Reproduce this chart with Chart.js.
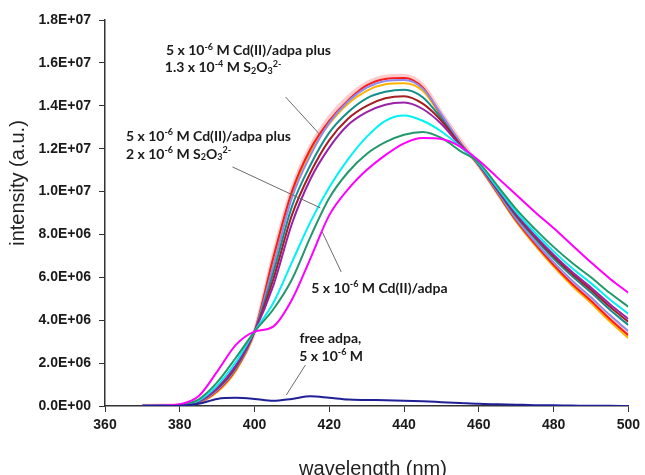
<!DOCTYPE html>
<html>
<head>
<meta charset="utf-8">
<script src="https://cdn.jsdelivr.net/npm/chart.js@4.4.1/dist/chart.umd.min.js"></script>
<style>
  html, body { margin: 0; padding: 0; background: #fff; }
  #wrap { width: 645px; height: 475px; }
</style>
</head>
<body>
<div id="wrap"><canvas id="specChart" width="645" height="475"></canvas></div>
<script>
// emission spectra, intensity in units of 1E+06 (a.u.)
const wavelengths = [370, 375, 380, 385, 390, 395, 400, 405, 410, 415, 420, 425, 430, 435, 440, 445, 450, 455, 460, 465, 470, 475, 480, 485, 490, 495, 500];

const freeAdpa   = [0.00, 0.00, 0.01, 0.10, 0.33, 0.38, 0.33, 0.24, 0.33, 0.45, 0.38, 0.30, 0.28, 0.27, 0.25, 0.22, 0.18, 0.14, 0.10, 0.08, 0.06, 0.04, 0.03, 0.02, 0.01, 0.01, 0.00];
const cdAdpa     = [0.01, 0.02, 0.08, 0.45, 1.60, 2.85, 3.47, 3.70, 4.95, 6.90, 8.90, 10.10, 11.00, 11.70, 12.25, 12.50, 12.45, 12.10, 11.45, 10.65, 9.85, 9.05, 8.30, 7.50, 6.70, 5.95, 5.28];
const thioA      = [0.01, 0.02, 0.06, 0.30, 1.10, 2.25, 3.47, 4.50, 5.90, 7.90, 9.70, 10.90, 11.75, 12.30, 12.65, 12.78, 12.50, 11.90, 11.35, 10.27, 9.18, 8.26, 7.42, 6.67, 6.00, 5.28, 4.63];
const thioB      = [0.01, 0.02, 0.05, 0.25, 0.95, 2.05, 3.47, 4.80, 6.70, 8.60, 10.20, 11.50, 12.55, 13.30, 13.55, 13.30, 12.80, 12.10, 11.31, 10.18, 9.05, 8.09, 7.21, 6.42, 5.73, 4.98, 4.30];
const thioC      = [0.01, 0.02, 0.05, 0.22, 0.85, 1.90, 3.47, 5.60, 8.50, 10.60, 12.05, 13.10, 13.70, 14.05, 14.15, 13.85, 13.15, 12.15, 11.29, 10.12, 8.96, 7.96, 7.06, 6.25, 5.53, 4.76, 4.06];
const thioD      = [0.01, 0.02, 0.05, 0.22, 0.82, 1.85, 3.47, 5.90, 8.90, 10.90, 12.40, 13.40, 14.00, 14.35, 14.45, 14.10, 13.30, 12.20, 11.28, 10.09, 8.90, 7.90, 6.98, 6.15, 5.42, 4.64, 3.93];
const thioE      = [0.01, 0.02, 0.05, 0.20, 0.80, 1.80, 3.47, 6.20, 9.30, 11.25, 12.75, 13.70, 14.35, 14.65, 14.75, 14.40, 13.40, 12.20, 11.26, 10.05, 8.84, 7.82, 6.88, 6.05, 5.30, 4.50, 3.78];
const thioF      = [0.01, 0.02, 0.05, 0.18, 0.75, 1.75, 3.47, 6.50, 9.70, 11.70, 13.20, 14.20, 14.85, 15.15, 15.20, 14.80, 13.60, 12.30, 11.23, 9.98, 8.73, 7.67, 6.71, 5.84, 5.07, 4.25, 3.50];
const thioG      = [0.01, 0.02, 0.05, 0.15, 0.65, 1.65, 3.47, 6.80, 9.90, 11.85, 13.15, 14.10, 14.70, 15.00, 15.05, 14.70, 13.50, 12.30, 11.20, 9.90, 8.60, 7.50, 6.50, 5.60, 4.80, 3.95, 3.17];
const thioH      = [0.01, 0.02, 0.05, 0.17, 0.70, 1.70, 3.47, 6.90, 10.00, 12.00, 13.30, 14.25, 14.95, 15.25, 15.30, 14.85, 13.55, 12.30, 11.21, 9.93, 8.65, 7.57, 6.58, 5.69, 4.91, 4.07, 3.30];
const thioMax    = [0.01, 0.02, 0.05, 0.17, 0.72, 1.72, 3.47, 7.00, 10.10, 12.10, 13.45, 14.40, 15.05, 15.35, 15.40, 14.95, 13.65, 12.40, 11.22, 9.95, 8.67, 7.59, 6.61, 5.73, 4.95, 4.11, 3.35];

const xTicks = [360, 380, 400, 420, 440, 460, 480, 500];
const yTickLabels = ["0.0E+00", "2.0E+06", "4.0E+06", "6.0E+06", "8.0E+06", "1.0E+07", "1.2E+07", "1.4E+07", "1.6E+07", "1.8E+07"];

function pts(arr) {
  return arr.map((v, i) => ({ x: wavelengths[i], y: v }));
}

function series(label, arr, color, width) {
  return {
    label: label,
    data: pts(arr),
    borderColor: color,
    borderWidth: width || 2,
    pointRadius: 0,
    fill: false,
    cubicInterpolationMode: "monotone"
  };
}

// labels with super/subscripts, placed in data units
const annoFont = "Lato, 'Open Sans', sans-serif";
const notes = [
  { x: 376.3, y: 16.56, align: "left", parts: [["5 x 10"], ["-6", "sup"], [" M Cd(II)/adpa plus"]] },
  { x: 376.0, y: 15.77, align: "left", parts: [["1.3 x 10"], ["-4", "sup"], [" M S"], ["2", "sub"], ["O"], ["3", "sub"], ["2-", "sup"]] },
  { x: 365.6, y: 12.59, align: "left", parts: [["5 x 10"], ["-6", "sup"], [" M Cd(II)/adpa plus"]] },
  { x: 365.6, y: 11.75, align: "left", parts: [["2 x 10"], ["-6", "sup"], [" M S"], ["2", "sub"], ["O"], ["3", "sub"], ["2-", "sup"]] },
  { x: 415.2, y: 5.50, align: "left", parts: [["5 x 10"], ["-6", "sup"], [" M Cd(II)/adpa"]] },
  { x: 420.3, y: 3.17, align: "center", parts: [["free adpa,"]] },
  { x: 420.5, y: 2.33, align: "center", parts: [["5 x 10"], ["-6", "sup"], [" M"]] }
];
const leaders = [
  [408.3, 14.41, 417.3, 12.69],
  [394.1, 11.15, 417.6, 9.24],
  [418.1, 8.12, 423.2, 6.25],
  [413.6, 1.91, 408.5, 0.51]
];

function fontFor(mode) {
  return mode ? "bold 9px " + annoFont : "bold 14px " + annoFont;
}

function drawRich(ctx, x, y, parts, align) {
  let total = 0;
  parts.forEach(p => { ctx.font = fontFor(p[1]); total += ctx.measureText(p[0]).width; });
  let cx = align === "center" ? x - total / 2 : x;
  ctx.textBaseline = "middle";
  ctx.textAlign = "left";
  parts.forEach(p => {
    ctx.font = fontFor(p[1]);
    let dy = 0;
    if (p[1] === "sup") dy = -4;
    if (p[1] === "sub") dy = 3;
    ctx.fillText(p[0], cx, y + dy);
    cx += ctx.measureText(p[0]).width;
  });
}

const notesPlugin = {
  id: "notes",
  afterDatasetsDraw(chart) {
    const ctx = chart.ctx;
    const xs = chart.scales.x, ys = chart.scales.y;
    ctx.save();
    ctx.strokeStyle = "#6b6b6b";
    ctx.lineWidth = 1;
    leaders.forEach(l => {
      ctx.beginPath();
      ctx.moveTo(xs.getPixelForValue(l[0]), ys.getPixelForValue(l[1]));
      ctx.lineTo(xs.getPixelForValue(l[2]), ys.getPixelForValue(l[3]));
      ctx.stroke();
    });
    ctx.fillStyle = "#1a1a1a";
    notes.forEach(n => drawRich(ctx, xs.getPixelForValue(n.x), ys.getPixelForValue(n.y), n.parts, n.align));

    // axis titles
    ctx.fillStyle = "#222";
    ctx.font = "20px 'Liberation Sans', Arial, sans-serif";
    ctx.textAlign = "center";
    ctx.textBaseline = "alphabetic";
    ctx.fillText("wavelength (nm)", 373, 475);
    ctx.translate(18, 183);
    ctx.rotate(-Math.PI / 2);
    ctx.textBaseline = "middle";
    ctx.fillText("intensity (a.u.)", 0, 0);
    ctx.restore();
  }
};

const tickFont = { family: "'Liberation Sans', Arial, sans-serif", weight: "bold", size: 14 };

new Chart(document.getElementById("specChart"), {
  type: "line",
  data: {
    datasets: [
      series("free adpa", freeAdpa, "#1f1f96"),
      series("Cd(II)/adpa", cdAdpa, "#ff00ff"),
      series("S2O3 a", thioA, "#23996b"),
      series("S2O3 b", thioB, "#00f2f2"),
      series("S2O3 c", thioC, "#9b22a8"),
      series("S2O3 d", thioD, "#a41e22"),
      series("S2O3 e", thioE, "#138e8c"),
      series("S2O3 f", thioF, "#8c8cf0"),
      series("S2O3 h", thioH, "#ff1a1a"),
      series("S2O3 g", thioG, "#ffb300"),
      series("S2O3 max", thioMax, "rgba(255,140,140,0.45)", 4)
    ]
  },
  options: {
    responsive: false,
    animation: false,
    layout: { padding: { left: 0, right: 16, top: 20, bottom: 0 } },
    plugins: { legend: { display: false }, tooltip: { enabled: false } },
    scales: {
      x: {
        type: "linear",
        min: 360,
        max: 500,
        afterFit(scale) { scale.height = 69; },
        afterBuildTicks(scale) { scale.ticks = xTicks.map(v => ({ value: v })); },
        ticks: { font: tickFont, color: "#1a1a1a", padding: 5, maxRotation: 0 },
        grid: { drawOnChartArea: false, drawTicks: true, tickLength: 6, tickColor: "#333" },
        border: { color: "#333", width: 1.5 }
      },
      y: {
        min: 0,
        max: 18,
        afterFit(scale) { scale.width = 105; },
        ticks: {
          stepSize: 2,
          font: tickFont,
          color: "#1a1a1a",
          padding: 8,
          callback: (v, i) => yTickLabels[i]
        },
        grid: { drawOnChartArea: false, drawTicks: true, tickLength: 6, tickColor: "#333" },
        border: { color: "#333", width: 1.5 }
      }
    }
  },
  plugins: [notesPlugin]
});
</script>
</body>
</html>
